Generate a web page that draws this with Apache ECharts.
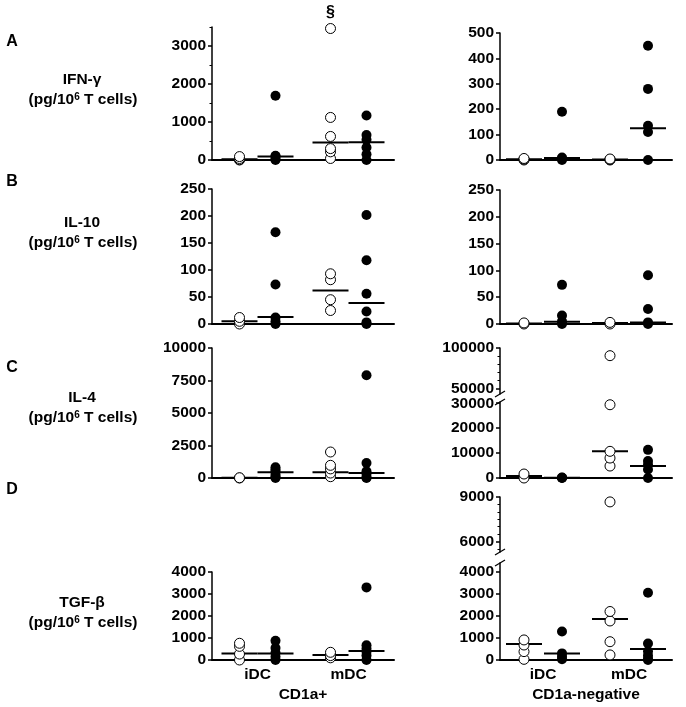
<!DOCTYPE html>
<html><head><meta charset="utf-8">
<script src="https://cdn.jsdelivr.net/npm/echarts@6/dist/echarts.min.js"></script>
<style>html,body{margin:0;padding:0;background:#fff}#c{width:686px;height:707px}</style>
</head><body><div id="c"></div>
<script>
const categories = ['iDC', 'mDC'];

// A: IFN-γ, CD1a+  ([iDC values], [mDC values])
const ifnPosOpen = [[0, 10, 40, 90], [40, 215, 300, 620, 1120, 3460]];
const ifnPosFilled = [[0, 20, 90, 110, 1690], [0, 150, 330, 530, 660, 1170]];
const ifnPosMedOpen = [20, 460];
const ifnPosMedFilled = [90, 470];
const ifnPosTicks = [0, 1000, 2000, 3000];
const ifnPosMinor = [500, 1500, 2500, 3500];
// A: IFN-γ, CD1a-negative
const ifnNegOpen = [[0, 3, 6], [0, 2, 4]];
const ifnNegFilled = [[0, 5, 10, 190], [0, 110, 135, 280, 450]];
const ifnNegMedOpen = [3, 2];
const ifnNegMedFilled = [8, 125];
const ifnNegTicks = [0, 100, 200, 300, 400, 500];
// B: IL-10, CD1a+
const il10PosOpen = [[0, 5, 12], [25, 45, 82, 93]];
const il10PosFilled = [[0, 5, 12, 73, 170], [0, 3, 23, 56, 118, 202]];
const il10PosMedOpen = [5, 62];
const il10PosMedFilled = [13, 39];
const il10Ticks = [0, 50, 100, 150, 200, 250];
// B: IL-10, CD1a-negative
const il10NegOpen = [[0, 2], [0, 3]];
const il10NegFilled = [[0, 5, 16, 73], [0, 3, 28, 91]];
const il10NegMedOpen = [1, 2];
const il10NegMedFilled = [4, 3];
// C: IL-4, CD1a+
const il4PosOpen = [[0, 20], [100, 380, 700, 975, 2000]];
const il4PosFilled = [[0, 100, 250, 500, 650, 820], [0, 50, 300, 520, 1150, 7900]];
const il4PosMedOpen = [10, 450];
const il4PosMedFilled = [450, 380];
const il4PosTicks = [0, 2500, 5000, 7500, 10000];
// C: IL-4, CD1a-negative (broken axis)
const il4NegOpen = [[0, 1600], [4800, 8000, 10700, 29400, 90500]];
const il4NegFilled = [[0, 100, 200], [0, 3400, 5300, 6800, 11300]];
const il4NegMedOpen = [800, 10700];
const il4NegMedFilled = [150, 4800];
const il4NegTicksLow = [0, 10000, 20000, 30000];
const il4NegTicksHigh = [50000, 100000];
const il4NegMinorHigh = [60000, 70000, 80000, 90000];
// D: TGF-β, CD1a+
const tgfPosOpen = [[0, 270, 620, 760], [100, 200, 350]];
const tgfPosFilled = [[0, 150, 330, 540, 870], [0, 200, 370, 510, 670, 3300]];
const tgfPosMedOpen = [300, 230];
const tgfPosMedFilled = [300, 410];
const tgfTicks = [0, 1000, 2000, 3000, 4000];
// D: TGF-β, CD1a-negative (broken axis)
const tgfNegOpen = [[30, 380, 680, 910], [230, 830, 1770, 2200, 8670]];
const tgfNegFilled = [[30, 150, 300, 1290], [0, 50, 200, 400, 750, 3050]];
const tgfNegMedOpen = [730, 1860];
const tgfNegMedFilled = [290, 500];
const tgfNegTicksHigh = [6000, 9000];
const tgfNegMinorHigh = [5500, 6500, 7000, 7500, 8000, 8500];

const F = '"Liberation Sans", Arial, sans-serif';
const FS = 15.5;
const LEFT = { left: 212, width: 182, off: 18 };
const RIGHT = { left: 500, width: 172, off: 19 };

const grids = [], xAxes = [], yAxes = [], series = [], graphics = [];

function addSegment(col, seg) {
  const gi = grids.length;
  grids.push({ left: col.left, top: seg.top, width: col.width, height: seg.height });
  xAxes.push({
    gridIndex: gi, type: 'category', data: categories, boundaryGap: true,
    show: seg.showX !== false,
    axisLine: { show: true, onZero: false, lineStyle: { color: '#000', width: 2 } },
    axisTick: { show: false },
    axisLabel: { show: !!seg.xName, fontFamily: F, fontWeight: 'bold', fontSize: FS, color: '#000', margin: 7 },
    name: seg.xName || '', nameLocation: 'middle', nameGap: 27,
    nameTextStyle: { fontFamily: F, fontWeight: 'bold', fontSize: FS, color: '#000' }
  });
  const yi = yAxes.length;
  yAxes.push({
    gridIndex: gi, type: 'value', position: 'left', offset: 0, min: seg.min, max: seg.max,
    axisLine: { show: true, lineStyle: { color: '#000', width: 1.5 } },
    axisTick: { show: true, length: 4, customValues: seg.ticks, lineStyle: { color: '#000', width: 1.5 } },
    axisLabel: { customValues: seg.ticks, formatter: v => String(v), fontFamily: F, fontWeight: 'bold', fontSize: FS, color: '#000', margin: 6 },
    splitLine: { show: false }
  });
  if (seg.minor) {
    yAxes.push({
      gridIndex: gi, type: 'value', position: 'left', offset: 0, min: seg.min, max: seg.max,
      axisLine: { show: false }, axisLabel: { show: false }, splitLine: { show: false },
      axisTick: { show: true, length: 2.5, customValues: seg.minor, lineStyle: { color: '#000', width: 1 } }
    });
  }
  return { gi, yi, min: seg.min, max: seg.max };
}

function addPanel(col, segs, d) {
  const parts = segs.map(s => addSegment(col, s));
  const inSeg = (p, v) => v >= p.min && v <= p.max;
  const groupsDef = [
    { vals: d.open, med: d.medOpen, off: -col.off, open: true },
    { vals: d.filled, med: d.medFilled, off: col.off, open: false }
  ];
  parts.forEach(p => {
    groupsDef.forEach(g => {
      series.push({
        type: 'scatter', xAxisIndex: p.gi, yAxisIndex: p.yi, clip: false, silent: true, z: 2,
        symbol: 'rect', symbolSize: [36, 2], symbolOffset: [g.off, 0],
        itemStyle: { color: '#000', opacity: 1 },
        data: g.med.map((m, i) => [i, m]).filter(pt => inSeg(p, pt[1]))
      });
      const pts = [];
      g.vals.forEach((arr, i) => arr.forEach(v => {
        if (!inSeg(p, v)) return;
        const item = { value: [i, v] };
        if (g.open && d.mark && i === d.mark.group && v === Math.max(...arr)) {
          item.label = { show: true, position: 'top', distance: 2, formatter: d.mark.text,
            fontFamily: F, fontWeight: 'bold', fontSize: 16, color: '#000' };
        }
        pts.push(item);
      }));
      series.push({
        type: 'scatter', xAxisIndex: p.gi, yAxisIndex: p.yi, clip: false, silent: true, z: 3,
        symbol: 'circle', symbolSize: 10, symbolOffset: [g.off, 0],
        itemStyle: g.open ? { color: '#fff', borderColor: '#000', borderWidth: 1, opacity: 1 } : { color: '#000', opacity: 1 },
        data: pts
      });
    });
  });
}

function breakMarks(col, yUpper, yLower) {
  [yUpper, yLower].forEach(y => {
    graphics.push({ type: 'line', shape: { x1: col.left - 5, y1: y + 3, x2: col.left + 5, y2: y - 3 },
      style: { stroke: '#000', lineWidth: 1.2 } });
  });
}

// Row A
addPanel(LEFT, [{ top: 27, height: 133, min: 0, max: 3500, ticks: ifnPosTicks, minor: ifnPosMinor }],
  { open: ifnPosOpen, filled: ifnPosFilled, medOpen: ifnPosMedOpen, medFilled: ifnPosMedFilled, mark: { group: 1, text: '§' } });
addPanel(RIGHT, [{ top: 33, height: 127, min: 0, max: 500, ticks: ifnNegTicks }],
  { open: ifnNegOpen, filled: ifnNegFilled, medOpen: ifnNegMedOpen, medFilled: ifnNegMedFilled });
// Row B
addPanel(LEFT, [{ top: 189, height: 135, min: 0, max: 250, ticks: il10Ticks }],
  { open: il10PosOpen, filled: il10PosFilled, medOpen: il10PosMedOpen, medFilled: il10PosMedFilled });
addPanel(RIGHT, [{ top: 190, height: 134, min: 0, max: 250, ticks: il10Ticks }],
  { open: il10NegOpen, filled: il10NegFilled, medOpen: il10NegMedOpen, medFilled: il10NegMedFilled });
// Row C
addPanel(LEFT, [{ top: 348, height: 130, min: 0, max: 10000, ticks: il4PosTicks }],
  { open: il4PosOpen, filled: il4PosFilled, medOpen: il4PosMedOpen, medFilled: il4PosMedFilled });
addPanel(RIGHT, [
  { top: 348, height: 46, min: 43000, max: 100000, ticks: il4NegTicksHigh, minor: il4NegMinorHigh, showX: false },
  { top: 402, height: 76, min: 0, max: 30500, ticks: il4NegTicksLow }
], { open: il4NegOpen, filled: il4NegFilled, medOpen: il4NegMedOpen, medFilled: il4NegMedFilled });
breakMarks(RIGHT, 394, 402);
// Row D
addPanel(LEFT, [{ top: 572, height: 88, min: 0, max: 4000, ticks: tgfTicks, xName: 'CD1a+' }],
  { open: tgfPosOpen, filled: tgfPosFilled, medOpen: tgfPosMedOpen, medFilled: tgfPosMedFilled });
addPanel(RIGHT, [
  { top: 497, height: 55, min: 5300, max: 9000, ticks: tgfNegTicksHigh, minor: tgfNegMinorHigh, showX: false },
  { top: 563, height: 97, min: 0, max: 4400, ticks: tgfTicks, xName: 'CD1a-negative' }
], { open: tgfNegOpen, filled: tgfNegFilled, medOpen: tgfNegMedOpen, medFilled: tgfNegMedFilled });
breakMarks(RIGHT, 552, 563);

// Row texts
const rowTexts = [
  { letter: 'A', ly: 42, name: 'IFN-γ', ny: 80 },
  { letter: 'B', ly: 182, name: 'IL-10', ny: 223 },
  { letter: 'C', ly: 368, name: 'IL-4', ny: 398 },
  { letter: 'D', ly: 490, name: 'TGF-β', ny: 603 }
];
rowTexts.forEach(r => {
  graphics.push({ type: 'text', x: 12, y: r.ly, style: { text: r.letter, fontFamily: F, fontWeight: 'bold', fontSize: 16, fill: '#000', align: 'center', verticalAlign: 'middle' } });
  graphics.push({ type: 'text', x: 82, y: r.ny, style: { text: r.name, fontFamily: F, fontWeight: 'bold', fontSize: FS, fill: '#000', align: 'center', verticalAlign: 'middle' } });
  graphics.push({ type: 'text', x: 83, y: r.ny + 20, style: {
    text: '(pg/10{sup|6} T cells)', fontFamily: F, fontWeight: 'bold', fontSize: FS, fill: '#000', align: 'center', verticalAlign: 'middle',
    rich: { sup: { fontFamily: F, fontWeight: 'bold', fontSize: 10, fill: '#000', verticalAlign: 'top', padding: [0, 0, 6, 0] } }
  } });
});

const chart = echarts.init(document.getElementById('c'), null, { renderer: 'canvas' });
chart.setOption({
  animation: false,
  backgroundColor: '#fff',
  grid: grids, xAxis: xAxes, yAxis: yAxes, series: series,
  graphic: graphics
});
</script></body></html>
